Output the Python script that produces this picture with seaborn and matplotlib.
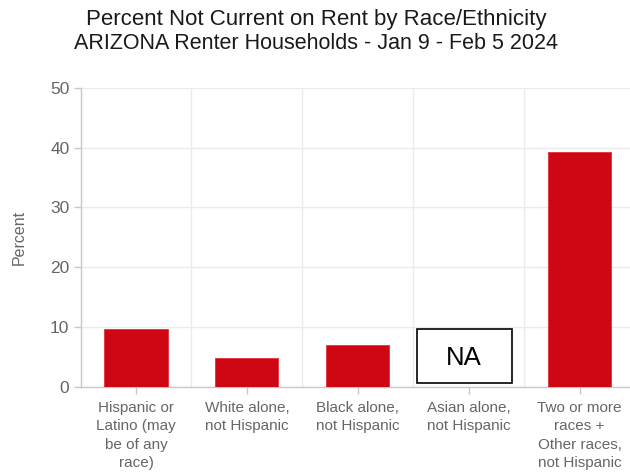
import numpy as np
import pandas as pd
import matplotlib
matplotlib.use("Agg")
import matplotlib.pyplot as plt
import seaborn as sns
from matplotlib.patches import Rectangle

# Share of renter households not current on rent, Arizona, Jan 9 - Feb 5 2024
categories = [
    "Hispanic or\nLatino (may\nbe of any\nrace)",
    "White alone,\nnot Hispanic",
    "Black alone,\nnot Hispanic",
    "Asian alone,\nnot Hispanic",
    "Two or more\nraces +\nOther races,\nnot Hispanic",
]
percent = [9.7, 4.9, 7.0, np.nan, 39.3]  # Asian estimate not available
y_ticks = [0, 10, 20, 30, 40, 50]

df = pd.DataFrame({"group": categories, "percent": percent})

sns.set_theme(style="white")
plt.rcParams["font.family"] = ["Liberation Sans", "DejaVu Sans"]

W, H = 630, 475
fig = plt.figure(figsize=(W / 100, H / 100), dpi=100)
ax = fig.add_axes([80.5 / W, 88 / H, 554.5 / W, 299.3 / H])

bar_red = "#cf0613"
sns.barplot(data=df, x="group", y="percent", order=categories, color=bar_red,
            width=0.57, saturation=1, ax=ax, zorder=3)
for p in ax.patches:
    p.set_edgecolor("#e0303a")
    p.set_linewidth(0.6)

ax.set_xlim(-0.5, len(categories) - 0.5)
ax.set_ylim(0, 50)
ax.set_yticks(y_ticks)

# light grid: horizontal at each y tick, vertical between categories
ax.set_xticks(np.arange(len(categories)) + 0.5, minor=True)
ax.grid(True, axis="y", which="major", color="#ebebeb", linewidth=1, zorder=0)
ax.grid(True, axis="x", which="minor", color="#ebebeb", linewidth=1, zorder=0)
ax.grid(False, axis="x", which="major")
ax.tick_params(axis="x", which="minor", length=0)

for side in ["top", "right"]:
    ax.spines[side].set_visible(False)
for side in ["left", "bottom"]:
    ax.spines[side].set_color("#c8c8c8")
    ax.spines[side].set_linewidth(1)

ax.tick_params(axis="y", which="major", length=5, width=1, color="#c8c8c8",
               labelsize=12.5, labelcolor="#666666", pad=3, left=True)
ax.tick_params(axis="x", which="major", length=5, width=1, color="#c8c8c8",
               labelsize=11, labelcolor="#666666", pad=5, bottom=True)
for lbl in ax.get_xticklabels():
    lbl.set_linespacing(1.4)

ax.set_xlabel("")
ax.set_ylabel("Percent", fontsize=11.5, color="#666666", labelpad=17)

# "NA" box for the group without an estimate
for i, v in enumerate(percent):
    if np.isnan(v):
        ax.add_patch(Rectangle((i - 0.47, 0.7), 0.86, 9.0, facecolor="white",
                               edgecolor="black", linewidth=1.2, zorder=4))
        ax.text(i - 0.04, 4.8, "NA", ha="center", va="center", fontsize=18.5,
                color="black", zorder=5)

fig.text(316.5 / W, 1 - 25 / H, "Percent Not Current on Rent by Race/Ethnicity",
         ha="center", va="baseline", fontsize=16, color="#1a1a1a")
fig.text(315.5 / W, 1 - 49 / H, "ARIZONA Renter Households - Jan 9 - Feb 5 2024",
         ha="center", va="baseline", fontsize=15.5, color="#1a1a1a")

fig.savefig("out.png", dpi=100, facecolor="white")
